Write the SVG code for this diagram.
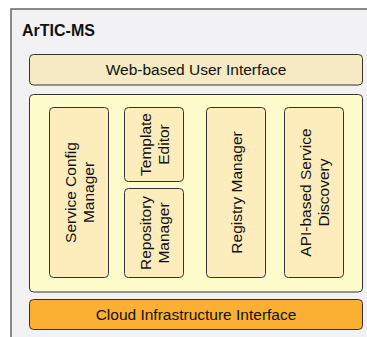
<svg xmlns="http://www.w3.org/2000/svg" width="367" height="337" viewBox="0 0 367 337">
<style>
text{font-family:"Liberation Sans",Arial,sans-serif;fill:#111;}
.lbl{font-size:15.5px;text-anchor:middle;}
.box{stroke:#333;stroke-width:1;}
.inner{fill:#fdecbc;stroke:#333;stroke-width:1;}
</style>
<rect width="367" height="337" fill="#ffffff"/>
<g id="frame">
<rect x="11" y="9" width="370" height="340" fill="#f2f2f5" stroke="#666" stroke-width="1.5"/>
<text x="22" y="36" style="font-size:16px;font-weight:bold">ArTIC-MS</text>
</g>
<g id="web-ui">
<rect class="box" x="29.5" y="54.5" width="333" height="30.5" rx="4" fill="#f5eac3"/>
<text class="lbl" x="196" y="75">Web-based User Interface</text>
</g>
<g id="core">
<rect class="box" x="29.5" y="94.5" width="333" height="197.5" rx="4" fill="#fffccc"/>
</g>
<g id="service-config">
<rect class="inner" x="49.5" y="107.5" width="59" height="170" rx="4"/>
<text class="lbl" transform="translate(79 192.5) rotate(-90)"><tspan x="0" y="-3">Service Config</tspan><tspan x="0" y="14.5">Manager</tspan></text>
</g>
<g id="template-editor">
<rect class="inner" x="124.5" y="107.5" width="59" height="74" rx="4"/>
<text class="lbl" transform="translate(154 144.5) rotate(-90)"><tspan x="0" y="-3">Template</tspan><tspan x="0" y="14.5">Editor</tspan></text>
</g>
<g id="repository-manager">
<rect class="inner" x="124.5" y="188.5" width="59" height="89" rx="4"/>
<text class="lbl" transform="translate(154 233) rotate(-90)"><tspan x="0" y="-3">Repository</tspan><tspan x="0" y="14.5">Manager</tspan></text>
</g>
<g id="registry-manager">
<rect class="inner" x="206.5" y="107.5" width="59" height="170" rx="4"/>
<text class="lbl" transform="translate(236 192.5) rotate(-90)"><tspan x="0" y="5.5">Registry Manager</tspan></text>
</g>
<g id="api-discovery">
<rect class="inner" x="284.5" y="107.5" width="59" height="170" rx="4"/>
<text class="lbl" transform="translate(314 192.5) rotate(-90)"><tspan x="0" y="-3">API-based Service</tspan><tspan x="0" y="14.5">Discovery</tspan></text>
</g>
<g id="cloud">
<rect class="box" x="29.5" y="299.5" width="333" height="30" rx="4" fill="#fbb034"/>
<text class="lbl" x="196" y="320">Cloud Infrastructure Interface</text>
</g>
<g id="connectors"></g>
</svg>
